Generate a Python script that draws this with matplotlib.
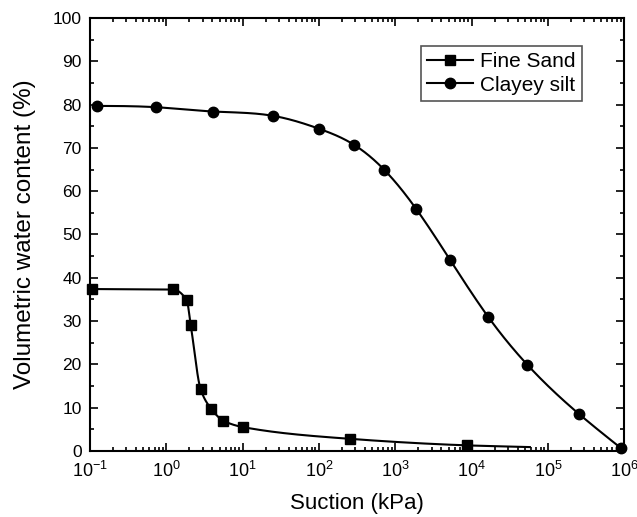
import matplotlib
matplotlib.use("Agg")
import matplotlib.pyplot as plt
import numpy as np
from matplotlib.ticker import LogLocator, MultipleLocator, NullFormatter

plt.rcParams['font.family'] = ['Liberation Sans', 'DejaVu Sans']
plt.rcParams['mathtext.fontset'] = 'custom'
plt.rcParams['mathtext.rm'] = 'Liberation Sans'
plt.rcParams['mathtext.it'] = 'Liberation Sans'
plt.rcParams['axes.unicode_minus'] = False

# data
sand_x = [0.107, 1.21, 1.85, 2.09, 2.82, 3.85, 5.58, 10.2, 257, 8600]
sand_y = [37.4, 37.3, 34.8, 29.0, 14.2, 9.8, 7.0, 5.5, 2.8, 1.3]
sand_tail_x = [58000]   # fitted line goes past the last measured point
sand_tail_y = [0.9]

silt_x = [0.125, 0.726, 4.13, 25.1, 101, 289, 720, 1860, 5240, 16600, 53800, 257000, 900000]
silt_y = [79.7, 79.4, 78.4, 77.4, 74.4, 70.7, 64.9, 56.0, 44.1, 30.9, 19.9, 8.5, 0.7]

xticks = [1e-1, 1e0, 1e1, 1e2, 1e3, 1e4, 1e5, 1e6]


def pchip(x, y, xn):
    # monotone cubic, keeps the sharp drop of the sand curve from overshooting
    x = np.asarray(x, float); y = np.asarray(y, float)
    h = np.diff(x); d = np.diff(y) / h
    m = np.zeros_like(y)
    for i in range(1, len(x) - 1):
        if d[i - 1] * d[i] > 0:
            w1 = 2 * h[i] + h[i - 1]; w2 = h[i] + 2 * h[i - 1]
            m[i] = (w1 + w2) / (w1 / d[i - 1] + w2 / d[i])
    m[0] = d[0]; m[-1] = d[-1]
    return hermite(x, y, m, xn)


def spline(x, y, xn):
    # natural cubic spline, for the smooth silt curve
    x = np.asarray(x, float); y = np.asarray(y, float)
    n = len(x); h = np.diff(x)
    A = np.zeros((n, n)); b = np.zeros(n)
    A[0, 0] = A[-1, -1] = 1
    for i in range(1, n - 1):
        A[i, i - 1] = h[i - 1]; A[i, i] = 2 * (h[i - 1] + h[i]); A[i, i + 1] = h[i]
        b[i] = 3 * ((y[i + 1] - y[i]) / h[i] - (y[i] - y[i - 1]) / h[i - 1])
    c = np.linalg.solve(A, b)
    idx = np.clip(np.searchsorted(x, xn) - 1, 0, n - 2)
    dx = xn - x[idx]
    bb = (y[idx + 1] - y[idx]) / h[idx] - h[idx] * (2 * c[idx] + c[idx + 1]) / 3
    dd = (c[idx + 1] - c[idx]) / (3 * h[idx])
    return y[idx] + bb * dx + c[idx] * dx**2 + dd * dx**3


def hermite(x, y, m, xn):
    h = np.diff(x)
    idx = np.clip(np.searchsorted(x, xn) - 1, 0, len(h) - 1)
    t = (xn - x[idx]) / h[idx]
    h00 = 2*t**3 - 3*t**2 + 1; h10 = t**3 - 2*t**2 + t
    h01 = -2*t**3 + 3*t**2; h11 = t**3 - t**2
    return h00*y[idx] + h10*h[idx]*m[idx] + h01*y[idx+1] + h11*h[idx]*m[idx+1]


fig = plt.figure(figsize=(6.37, 5.17), dpi=100)
ax = fig.add_axes([0.1413, 0.1277, 0.8387, 0.8375])

lx = np.log10(sand_x + sand_tail_x)
ly = sand_y + sand_tail_y
xs = np.linspace(lx[0], lx[-1], 800)
ax.plot(10**xs, pchip(lx, ly, xs), color='black', lw=1.5)
ax.plot(sand_x, sand_y, ls='none', marker='s', ms=6.5, color='black', clip_on=False)
ax.plot([], [], color='black', lw=1.5, marker='s', ms=6.5, label='Fine Sand')

lx2 = np.log10(silt_x)
xs2 = np.linspace(lx2[0], lx2[-1], 800)
ax.plot(10**xs2, spline(lx2, silt_y, xs2), color='black', lw=1.5)
ax.plot(silt_x, silt_y, ls='none', marker='o', ms=7.5, color='black', clip_on=False)
ax.plot([], [], color='black', lw=1.5, marker='o', ms=7.5, label='Clayey silt')

ax.set_xscale('log')
ax.set_xlim(1e-1, 1e6)
ax.set_ylim(0, 100)
ax.set_xticks(xticks)
ax.xaxis.set_minor_locator(LogLocator(base=10, subs=np.arange(2, 10), numticks=20))
ax.xaxis.set_minor_formatter(NullFormatter())
ax.yaxis.set_major_locator(MultipleLocator(10))
ax.yaxis.set_minor_locator(MultipleLocator(5))
ax.tick_params(which='both', direction='in', top=True, right=True, width=1.2)
ax.tick_params(which='major', length=6)
ax.tick_params(which='minor', length=3)
ax.tick_params(axis='y', labelsize=12.5, pad=6)
ax.tick_params(axis='x', labelsize=13, pad=7)
for s in ax.spines.values():
    s.set_linewidth(1.5)

ax.set_xlabel('Suction (kPa)', fontsize=16, labelpad=9)
ax.set_ylabel('Volumetric water content (%)', fontsize=17.5, labelpad=12)

leg = ax.legend(loc='upper right', bbox_to_anchor=(0.921, 0.935), borderaxespad=0,
                fontsize=15, fancybox=False, edgecolor='#555555', framealpha=1,
                handlelength=2.2, handletextpad=0.35, borderpad=0.3, labelspacing=0.2)
leg.get_frame().set_linewidth(1.2)

fig.savefig('out.png', dpi=100)
